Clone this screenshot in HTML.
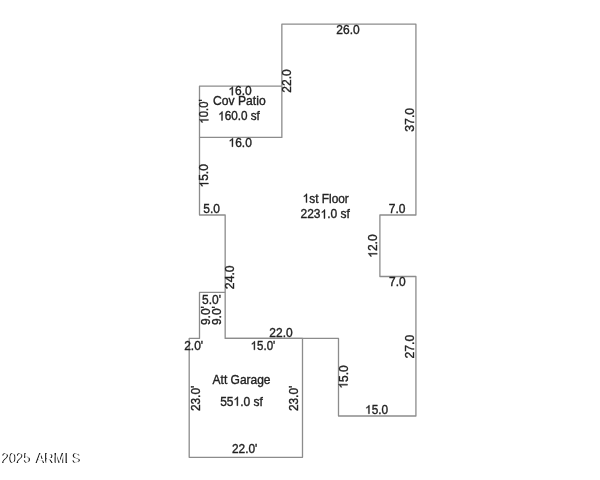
<!DOCTYPE html>
<html><head><meta charset="utf-8"><style>
html,body{margin:0;padding:0;background:#fff;}
body{width:600px;height:480px;overflow:hidden;}
svg{display:block;filter:grayscale(1)}
text{font-family:"Liberation Sans",sans-serif;font-size:12px;fill:#222;stroke:#222;stroke-width:0.35;text-anchor:middle}
.h{fill:none;stroke:none}
.o{fill:#222;stroke:#222;stroke-width:60}
.l{fill:none;stroke:#8c8c8c;stroke-width:1.3;stroke-linejoin:round}
.wm{font-size:14px;fill:#1c1c1c;stroke:none;text-anchor:start}
.wmw{fill:#fff;stroke:#fff;stroke-width:0.15}
</style></head><body>
<svg width="600" height="480" viewBox="0 0 600 480">
<rect width="600" height="480" fill="#fff"/>
<polygon class="l" points="281.85,24.20 415.92,24.20 415.92,215.00 379.90,215.00 379.90,276.50 415.92,276.50 415.92,416.00 338.50,416.00 338.50,338.45 225.17,338.45 225.17,215.00 199.50,215.00 199.50,137.40 281.85,137.40"/>
<polyline class="l" points="199.50,137.40 199.50,86.08 281.85,86.08"/>
<polyline class="l" points="225.17,292.40 199.50,292.40 199.50,338.45 189.20,338.45 189.20,457.30 302.50,457.30 302.50,338.45 225.17,338.45"/>
<g id="a26" transform="translate(347.99 33.60) scale(1.000 1.035)"><text>26.0</text></g>
<g id="a37" transform="translate(413.52 119.80) rotate(-90) scale(1.020 1.080)"><text>37.0</text></g>
<g id="a7t" transform="translate(397.06 212.80) scale(1.000 1.035)"><text>7.0</text></g>
<g id="a12" transform="translate(377.20 246.10) rotate(-90) scale(1.000 1.080)"><text><tspan class="h">1</tspan>2.0</text><path class="o" transform="translate(-11.680 0) scale(0.005859 -0.005616)" d="M763 0H583V1147Q518 1085 412.5 1023T223 930V1104Q373 1174.5 485.5 1275T645 1470H763Z"/></g>
<g id="a7b" transform="translate(397.31 286.30) scale(1.000 1.035)"><text>7.0</text></g>
<g id="a27" transform="translate(413.52 346.65) rotate(-90) scale(1.020 1.080)"><text>27.0</text></g>
<g id="a15b" transform="translate(376.56 413.80) scale(0.985 1.035)"><text><tspan class="h">1</tspan>5.0</text><path class="o" transform="translate(-11.680 0) scale(0.005859 -0.005616)" d="M763 0H583V1147Q518 1085 412.5 1023T223 930V1104Q373 1174.5 485.5 1275T645 1470H763Z"/></g>
<g id="a15v" transform="translate(347.50 376.93) rotate(-90) scale(1.000 1.080)"><text><tspan class="h">1</tspan>5.0</text><path class="o" transform="translate(-11.680 0) scale(0.005859 -0.005616)" d="M763 0H583V1147Q518 1085 412.5 1023T223 930V1104Q373 1174.5 485.5 1275T645 1470H763Z"/></g>
<g id="a22h" transform="translate(281.03 336.75) scale(1.000 1.035)"><text>22.0</text></g>
<g id="a24" transform="translate(234.37 277.23) rotate(-90) scale(1.020 1.080)"><text>24.0</text></g>
<g id="a5" transform="translate(211.63 212.80) scale(1.000 1.035)"><text>5.0</text></g>
<g id="a15l" transform="translate(208.40 175.80) rotate(-90) scale(1.000 1.080)"><text><tspan class="h">1</tspan>5.0</text><path class="o" transform="translate(-11.680 0) scale(0.005859 -0.005616)" d="M763 0H583V1147Q518 1085 412.5 1023T223 930V1104Q373 1174.5 485.5 1275T645 1470H763Z"/></g>
<g id="a16b" transform="translate(240.18 146.70) scale(1.000 1.035)"><text><tspan class="h">1</tspan>6.0</text><path class="o" transform="translate(-11.680 0) scale(0.005859 -0.005616)" d="M763 0H583V1147Q518 1085 412.5 1023T223 930V1104Q373 1174.5 485.5 1275T645 1470H763Z"/></g>
<g id="a22v" transform="translate(291.05 81.00) rotate(-90) scale(1.000 1.080)"><text>22.0</text></g>
<g id="p16" transform="translate(240.08 95.18) scale(1.000 1.035)"><text><tspan class="h">1</tspan>6.0</text><path class="o" transform="translate(-11.680 0) scale(0.005859 -0.005616)" d="M763 0H583V1147Q518 1085 412.5 1023T223 930V1104Q373 1174.5 485.5 1275T645 1470H763Z"/></g>
<g id="p10" transform="translate(208.40 111.49) rotate(-90) scale(0.945 1.080)"><text><tspan class="h">1</tspan>0.0'</text><path class="o" transform="translate(-12.828 0) scale(0.005859 -0.005616)" d="M763 0H583V1147Q518 1085 412.5 1023T223 930V1104Q373 1174.5 485.5 1275T645 1470H763Z"/></g>
<g id="g5" transform="translate(211.43 303.60) scale(1.000 1.035)"><text>5.0'</text></g>
<g id="g9l" transform="translate(209.55 315.62) rotate(-90) scale(1.000 1.000)"><text>9.0'</text></g>
<g id="g9r" transform="translate(220.77 315.62) rotate(-90) scale(1.000 1.000)"><text>9.0'</text></g>
<g id="g2" transform="translate(193.65 349.95) scale(1.000 1.035)"><text>2.0'</text></g>
<g id="g15" transform="translate(262.94 349.85) scale(0.960 1.035)"><text><tspan class="h">1</tspan>5.0'</text><path class="o" transform="translate(-12.828 0) scale(0.005859 -0.005616)" d="M763 0H583V1147Q518 1085 412.5 1023T223 930V1104Q373 1174.5 485.5 1275T645 1470H763Z"/></g>
<g id="g23l" transform="translate(200.05 398.43) rotate(-90) scale(0.990 1.080)"><text>23.0'</text></g>
<g id="g23r" transform="translate(298.00 398.43) rotate(-90) scale(0.990 1.080)"><text>23.0'</text></g>
<g id="g22" transform="translate(244.70 453.00) scale(0.990 1.035)"><text>22.0'</text></g>
<g id="tcp" transform="translate(239.35 104.70) scale(1.013 1.070)"><text>Cov Patio</text></g>
<g id="tcs" transform="translate(239.00 120.40) scale(0.976 1.070)"><text><tspan class="h">1</tspan>60.0 sf</text><path class="o" transform="translate(-21.352 0) scale(0.005859 -0.005616)" d="M763 0H583V1147Q518 1085 412.5 1023T223 930V1104Q373 1174.5 485.5 1275T645 1470H763Z"/></g>
<g id="tff" transform="translate(325.70 202.55) scale(0.990 1.070)"><text><tspan class="h">1</tspan>st Floor</text><path class="o" transform="translate(-23.344 0) scale(0.005859 -0.005616)" d="M763 0H583V1147Q518 1085 412.5 1023T223 930V1104Q373 1174.5 485.5 1275T645 1470H763Z"/></g>
<g id="tfs" transform="translate(325.20 218.45) scale(1.000 1.070)"><text>223<tspan class="h">1</tspan>.0 sf</text><path class="o" transform="translate(-4.672 0) scale(0.005859 -0.005616)" d="M763 0H583V1147Q518 1085 412.5 1023T223 930V1104Q373 1174.5 485.5 1275T645 1470H763Z"/></g>
<g id="tag" transform="translate(241.55 383.85) scale(1.000 1.070)"><text>Att Garage</text></g>
<g id="tgs" transform="translate(241.45 405.65) scale(1.000 1.070)"><text>55<tspan class="h">1</tspan>.0 sf</text><path class="o" transform="translate(-8.008 0) scale(0.005859 -0.005616)" d="M763 0H583V1147Q518 1085 412.5 1023T223 930V1104Q373 1174.5 485.5 1275T645 1470H763Z"/></g>
<g id="wm"><text class="wm" transform="translate(1.4 462.9) scale(0.936 1)">2025 <tspan dx="1.3">ARMLS</tspan></text><text class="wm wmw" transform="translate(2.95 462.9) scale(0.936 1)">2025 <tspan dx="1.3">ARMLS</tspan></text></g>
</svg>
</body></html>
